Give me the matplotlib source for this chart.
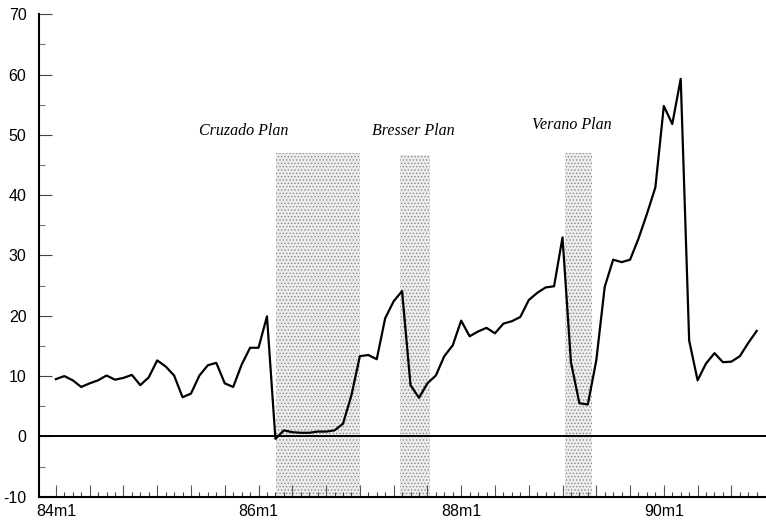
import matplotlib
matplotlib.use("Agg")
import matplotlib.pyplot as plt
from matplotlib.ticker import MultipleLocator, FixedLocator

# monthly inflation, 84m1 .. 90m12 (month index 0..83)
inflation = [9.5, 10.0, 9.3, 8.2, 8.8, 9.3, 10.1, 9.4, 9.7, 10.2, 8.5, 9.8,
             12.6, 11.6, 10.1, 6.5, 7.1, 10.1, 11.8, 12.2, 8.8, 8.2, 11.9, 14.7,
             14.7, 19.9, -0.4, 1.0, 0.7, 0.6, 0.6, 0.8, 0.8, 1.0, 2.1, 6.8,
             13.3, 13.5, 12.8, 19.6, 22.4, 24.1, 8.5, 6.4, 8.8, 10.1, 13.3, 15.1,
             19.2, 16.6, 17.4, 18.0, 17.1, 18.7, 19.1, 19.8, 22.6, 23.8, 24.7, 24.9,
             33.0, 12.3, 5.5, 5.3, 12.6, 24.8, 29.3, 28.9, 29.3, 32.8, 36.9, 41.3,
             54.8, 51.8, 59.3, 15.9, 9.3, 12.1, 13.8, 12.3, 12.4, 13.3, 15.5, 17.5]
months = list(range(len(inflation)))

# stabilisation plans (start / end in month index, top of the band)
plan_names = ['Cruzado Plan', 'Bresser Plan', 'Verano Plan']
plan_start = [26.1, 40.8, 60.3]
plan_end = [36.0, 44.3, 63.5]
plan_top = [47, 46.7, 47]
label_x = [22.3, 42.3, 61.1]
label_y = [50.6, 50.7, 51.6]

tick_labels = ['84m1', '86m1', '88m1', '90m1']
tick_pos = [0, 24, 48, 72]

plt.rcParams['font.family'] = ['Liberation Sans', 'DejaVu Sans']
plt.rcParams['axes.unicode_minus'] = False
plt.rcParams['hatch.linewidth'] = 0.6
plt.rcParams['hatch.color'] = '#8a8a8a'

fig = plt.figure(figsize=(7.66, 5.25), dpi=100)
ax = fig.add_axes([0.0509, 0.0539, 0.9491, 0.9189])

for s, e, t in zip(plan_start, plan_end, plan_top):
    ax.fill_between([s, e], [-10, -10], [t, t], facecolor='#ececec',
                    edgecolor='#8a8a8a', hatch='.....', linewidth=0, zorder=1)

for name, x, y in zip(plan_names, label_x, label_y):
    ax.text(x, y, name, ha='center', va='center', fontsize=11.5,
            family=['Liberation Serif', 'DejaVu Serif'], style='italic')

ax.axhline(0, color='black', lw=1.4, zorder=2)
ax.plot(months, inflation, color='black', lw=1.6, zorder=3)

ax.set_xlim(-2, 84.1)
ax.set_ylim(-10, 70)

ax.spines['top'].set_visible(False)
ax.spines['right'].set_visible(False)
ax.spines['left'].set_linewidth(1.5)
ax.spines['bottom'].set_linewidth(1.5)

ax.yaxis.set_major_locator(MultipleLocator(10))
ax.yaxis.set_minor_locator(MultipleLocator(5))
ax.tick_params(axis='y', which='major', direction='in', length=9, width=0.8,
               color='#444444', labelsize=11.5, pad=9)
ax.tick_params(axis='y', which='minor', direction='in', length=4, width=0.8,
               color='#777777')

# tall ticks every 4 months, short ones every month, labels every 2 years
ax.xaxis.set_major_locator(FixedLocator(list(range(0, 84, 4))))
ax.set_xticklabels([tick_labels[tick_pos.index(p)] if p in tick_pos else ''
                    for p in range(0, 84, 4)])
ax.xaxis.set_minor_locator(FixedLocator(months))
ax.tick_params(axis='x', which='major', direction='in', length=9, width=0.8,
               color='#555555', labelsize=11.5, pad=5)
ax.tick_params(axis='x', which='minor', direction='in', length=3.5, width=0.8,
               color='#444444')

plt.savefig('out.png', dpi=100)
